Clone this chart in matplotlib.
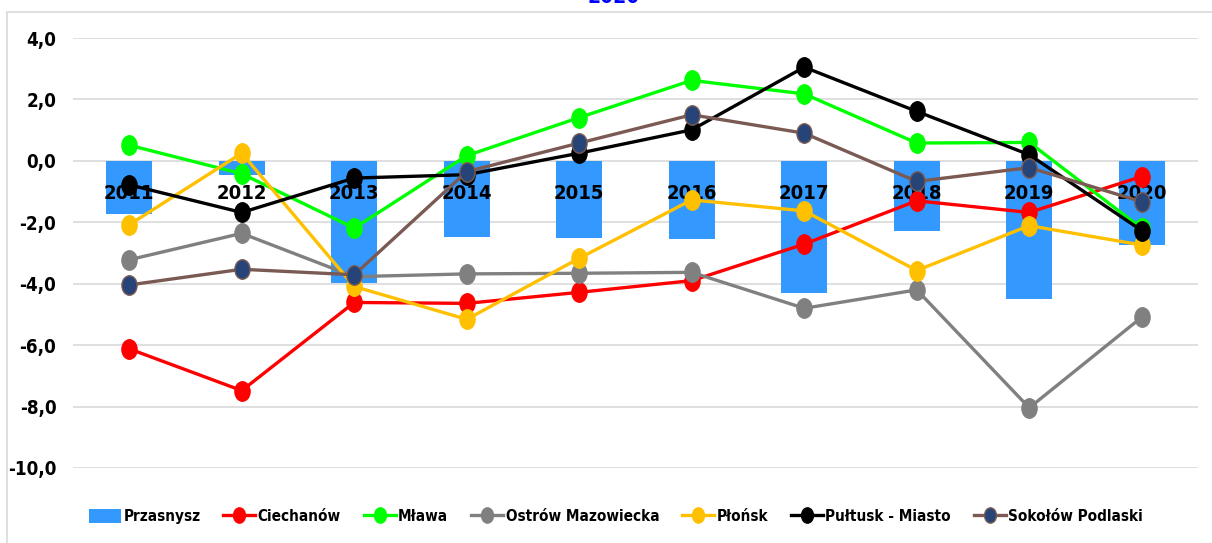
import matplotlib
matplotlib.use("Agg")
import matplotlib.pyplot as plt
from matplotlib.lines import Line2D
from matplotlib.patches import Patch, Rectangle
from matplotlib.path import Path
from matplotlib.markers import MarkerStyle
from matplotlib.transforms import Affine2D
from matplotlib.ticker import FuncFormatter

plt.rcParams['font.family'] = ['DejaVu Sans']
plt.rcParams['font.stretch'] = 'condensed'
plt.rcParams['font.weight'] = 'bold'

years = ['2011', '2012', '2013', '2014', '2015', '2016', '2017', '2018', '2019', '2020']

# bars
przasnysz = [-1.73, -0.45, -3.97, -2.48, -2.52, -2.55, -4.29, -2.27, -4.50, -2.75]

# lines
ciechanow = [-6.12, -7.48, -4.61, -4.64, -4.28, -3.90, -2.71, -1.30, -1.68, -0.51]
mlawa = [0.51, -0.42, -2.19, 0.17, 1.41, 2.62, 2.18, 0.58, 0.60, -2.20]
ostrow = [-3.22, -2.36, -3.77, -3.68, -3.66, -3.63, -4.80, -4.20, -8.04, -5.09]
plonsk = [-2.08, 0.25, -4.09, -5.16, -3.17, -1.27, -1.63, -3.57, -2.11, -2.74]
pultusk = [-0.78, -1.68, -0.56, -0.45, 0.25, 1.01, 3.05, 1.61, 0.20, -2.27]
sokolow = [-4.04, -3.53, -3.71, -0.35, 0.58, 1.50, 0.90, -0.67, -0.22, -1.33]

series = [
    ('Ciechanów', ciechanow, '#FF0000', '#FF0000'),
    ('Mława', mlawa, '#00FF00', '#00FF00'),
    ('Ostrów Mazowiecka', ostrow, '#808080', '#808080'),
    ('Płońsk', plonsk, '#FFC000', '#FFC000'),
    ('Pułtusk - Miasto', pultusk, '#000000', '#000000'),
    ('Sokołów Podlaski', sokolow, '#7A5A52', '#264478'),
]

# slightly tall oval marker, like the original
oval = MarkerStyle(Path.unit_circle().transformed(Affine2D().scale(0.78, 1.0)))

fig = plt.figure(figsize=(12.12, 5.43), dpi=100)
ax = fig.add_axes([73/1212, 1-468/543, 1125/1212, 430/543])

x = list(range(len(years)))
ax.bar(x, przasnysz, width=0.41, color='#3399FF', zorder=2)

handles = [Patch(facecolor='#3399FF', label='Przasnysz')]
for name, vals, c, mc in series:
    ax.plot(x, vals, color=c, lw=2.4, marker=oval, ms=14,
            markerfacecolor=mc, markeredgecolor=c, zorder=3)
    handles.append(Line2D([], [], color=c, lw=2.4, marker=oval, ms=11,
                          markerfacecolor=mc, markeredgecolor=c, label=name))

ax.set_ylim(-10, 4)
ax.set_xlim(-0.5, len(years) - 0.5)
ax.set_yticks(range(-10, 5, 2))
ax.yaxis.set_major_formatter(FuncFormatter(lambda v, p: f'{v:.1f}'.replace('.', ',')))
ax.grid(axis='y', color='#D9D9D9', lw=1.2)
ax.yaxis.set_zorder(0.5)

# year labels sit on the zero line
ax.set_xticks(x)
ax.set_xticklabels(years)
ax.spines['bottom'].set_position(('data', 0))
ax.xaxis.set_zorder(2.5)
for s in ['top', 'right', 'left', 'bottom']:
    ax.spines[s].set_visible(False)
ax.tick_params(axis='x', length=0, pad=16.5, labelsize=14.5)
ax.tick_params(axis='y', length=0, pad=12, labelsize=13.5)

ax.legend(handles=handles, loc='center', bbox_to_anchor=(616/1212, 0.048),
          bbox_transform=fig.transFigure, ncol=7, frameon=False,
          fontsize=11, handlelength=2.1, handleheight=1.0, handletextpad=0.15,
          columnspacing=1.5)

# chart border and clipped title
fig.patches.append(Rectangle((7/1212, -0.1), 1.2, 1 - 12/543 + 0.1, transform=fig.transFigure,
                             fill=False, edgecolor='#D9D9D9', lw=1.2))
fig.text(614/1212, 1 - 3/543, '2020', color='#0000FF', fontsize=15, ha='center', va='baseline')

fig.savefig('out.png', dpi=100)
